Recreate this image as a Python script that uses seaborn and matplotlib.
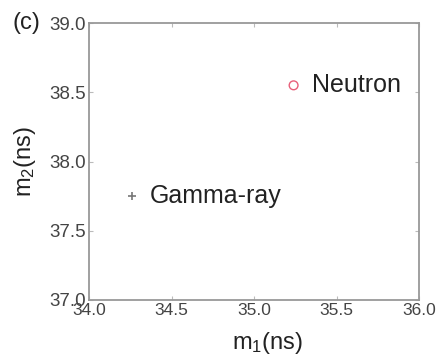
import matplotlib
matplotlib.use("Agg")
import matplotlib.pyplot as plt
import seaborn as sns
import pandas as pd

# Cluster centres of the two pulse classes
classes = ["Neutron", "Gamma-ray"]
m1_values = [35.24, 34.26]
m2_values = [38.55, 37.75]
x_ticks = [34.0, 34.5, 35.0, 35.5, 36.0]
y_ticks = [37.0, 37.5, 38.0, 38.5, 39.0]

df = pd.DataFrame({"m1": m1_values, "m2": m2_values, "cls": classes})

sns.set_style("ticks")
plt.rcParams["font.family"] = ["Liberation Sans", "DejaVu Sans"]
plt.rcParams["mathtext.fontset"] = "custom"
plt.rcParams["mathtext.rm"] = "Liberation Sans"
plt.rcParams["mathtext.it"] = "Liberation Sans"

fig = plt.figure(figsize=(4.38, 3.58), dpi=100)
ax = fig.add_axes([89 / 438, 1 - 300 / 358, 330 / 438, 277 / 358])

# open circle for neutrons, thin plus for gamma rays
neu = df[df["cls"] == "Neutron"]
gam = df[df["cls"] == "Gamma-ray"]
sns.scatterplot(data=neu, x="m1", y="m2", marker="o", s=40,
                facecolors="none", edgecolors="#e8607a", linewidth=1.0,
                ax=ax, legend=False)
sns.scatterplot(data=gam, x="m1", y="m2", marker="+", s=40,
                color="#777777", linewidth=1.2, ax=ax, legend=False)

for name, xv, yv in zip(classes, m1_values, m2_values):
    ax.annotate(name, (xv, yv), xytext=(13, 0), textcoords="offset points",
                va="center", ha="left", fontsize=18, color="#222222")

ax.set_xlim(34.0, 36.0)
ax.set_ylim(37.0, 39.0)
ax.set_xticks(x_ticks)
ax.set_yticks(y_ticks)
ax.set_xticklabels([f"{v:.1f}" for v in x_ticks])
ax.set_yticklabels([f"{v:.1f}" for v in y_ticks])

for s in ax.spines.values():
    s.set_visible(True)
    s.set_color("#999999")
    s.set_linewidth(1.3)
ax.tick_params(direction="in", length=3, width=0.8, color="#bbbbbb",
               top=True, right=True, labelcolor="#444444", pad=2)
ax.tick_params(axis="x", labelsize=12.5)
ax.tick_params(axis="y", labelsize=13.5)

ax.set_xlabel("m$_1$(ns)", fontsize=17, color="#222222")
ax.set_ylabel("m$_2$(ns)", fontsize=17, color="#222222")
ax.xaxis.set_label_coords(0.54, -0.11)
ax.yaxis.set_label_coords(-0.155, 0.5)

fig.text(12 / 438, 1 - 23 / 358, "(c)", fontsize=17, color="#222222",
         ha="left", va="center")

fig.savefig("out.png", dpi=100)
